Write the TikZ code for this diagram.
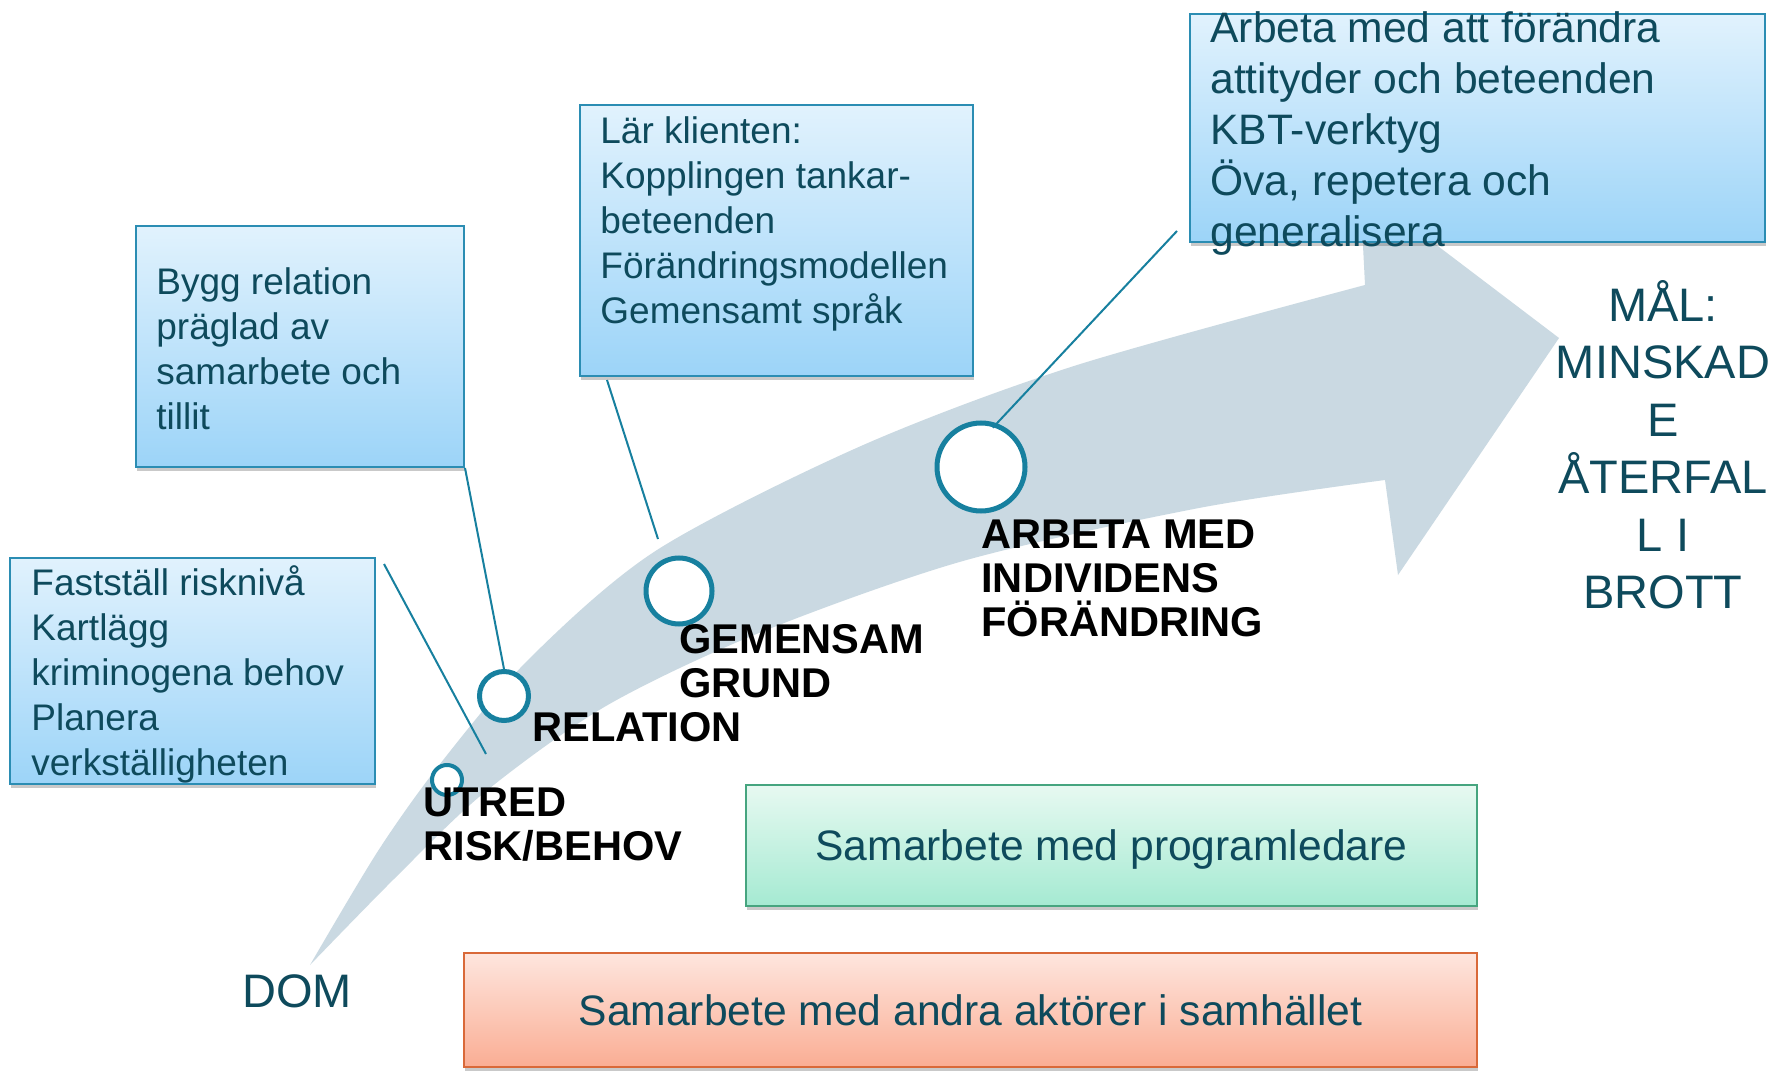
\documentclass[tikz,border=0pt]{standalone}
\usepackage{fontspec}
\setmainfont{Liberation Sans}
\usetikzlibrary{shadows}
\definecolor{arrowc}{HTML}{CAD9E2}
\definecolor{ringc}{HTML}{17809F}
\definecolor{txtc}{HTML}{0E4A5C}
\definecolor{bluetop}{HTML}{E1F2FD}
\definecolor{bluebot}{HTML}{9CD4F8}
\definecolor{blueline}{HTML}{2B8DB3}
\definecolor{greentop}{HTML}{E7F9F1}
\definecolor{greenbot}{HTML}{A5EAD2}
\definecolor{greenline}{HTML}{46A57F}
\definecolor{orangetop}{HTML}{FEE6DE}
\definecolor{orangebot}{HTML}{FAAD94}
\definecolor{orangeline}{HTML}{D96939}
\begin{document}
\begin{tikzpicture}[x=0.5pt,y=-0.5pt,
  box/.style={draw, line width=1pt, inner sep=0pt,
    drop shadow={shadow xshift=0.6pt, shadow yshift=-2pt, opacity=0.35, fill=black!60}},
  bluebox/.style={box, draw=blueline, top color=bluetop, bottom color=bluebot},
  greenbox/.style={box, draw=greenline, top color=greentop, bottom color=greenbot,
    text=txtc, font=\fontsize{21.3}{25}\selectfont},
  orangebox/.style={box, draw=orangeline, top color=orangetop, bottom color=orangebot,
    text=txtc, font=\fontsize{21.3}{25}\selectfont},
  ring/.style={circle, draw=ringc, fill=white, inner sep=0pt, line width=2.5pt},
  conn/.style={draw=ringc, line width=1pt},
  boxtext/.style={font=\fontsize{18.5}{22.5}\selectfont, text=txtc, align=left,
    inner sep=0pt, anchor=north west},
  bigboxtext/.style={font=\fontsize{21.3}{25.5}\selectfont, text=txtc, align=left,
    inner sep=0pt, anchor=north west},
  stage/.style={font=\fontsize{20.8}{22}\selectfont\bfseries, text=black, align=left,
    inner sep=0pt, anchor=north west},
  goal/.style={font=\fontsize{23.5}{28.7}\selectfont, text=txtc, align=center, inner sep=0pt},
]
\useasboundingbox[fill=white] (0,0) rectangle (1787,1074);

% big curved arrow
\fill[arrowc] plot[smooth] coordinates {(310,965) (378,851) (440,764) (530,658)
   (657,550) (861,446) (1074,366) (1365,285)}
 -- (1360,187) -- (1559,338) -- (1398,575) -- (1385,480)
 -- plot[smooth] coordinates {(1385,480) (1199,508) (963,561) (759,633) (606,706)
   (485,792) (395,878) (310,965)}
 -- cycle;

% boxes
\node[bluebox, minimum width=182.5pt, minimum height=113pt] (b1) at (192.5,671) {};
\node[bluebox, minimum width=164pt, minimum height=120.5pt] (b2) at (300,346.5) {};
\node[bluebox, minimum width=196.5pt, minimum height=135.5pt] (b3) at (776.5,240.5) {};
\node[bluebox, minimum width=287.5pt, minimum height=114pt] (b4) at (1477.5,128) {};
\node[greenbox, minimum width=365.5pt, minimum height=60.5pt] (g) at (1111.5,845.5)
  {\raisebox{-7.5pt}[0pt][0pt]{Samarbete med programledare}};
\node[orangebox, minimum width=506.5pt, minimum height=57pt] (o) at (970.5,1010)
  {\raisebox{-7.5pt}[0pt][0pt]{Samarbete med andra aktörer i samhället}};

% circles
\node[ring, line width=2pt, minimum size=15pt] (c1) at (447,780) {};
\node[ring, minimum size=24.5pt] (c2) at (504,696) {};
\node[ring, minimum size=33pt] (c3) at (679,591) {};
\node[ring, minimum size=44pt] (c4) at (981,467) {};

% connectors
\coordinate (l1s) at (384,564);
\coordinate (l1e) at (486,754);
\coordinate (l3s) at (607,380);
\coordinate (l3e) at (658,539);
\coordinate (l4s) at (1177,231);
\draw[conn] (l1s) -- (l1e);
\draw[conn] (b2.south east) -- (c2.north);
\draw[conn] (l3s) -- (l3e);
\draw[conn, shorten >=-3pt] (l4s) -- (c4.70);

% box texts
\node[boxtext] (t1) at (31,563.5) {\strut Fastställ risknivå\\Kartlägg\\kriminogena behov\\Planera\\verkställigheten};
\node[boxtext] (t2) at (156,262.5) {\strut Bygg relation\\präglad av\\samarbete och\\tillit};
\node[boxtext] (t3) at (600,111.5) {\strut Lär klienten:\\Kopplingen tankar-\\beteenden\\Förändringsmodellen\\Gemensamt språk};
\node[bigboxtext] (t4) at (1210,6) {\strut Arbeta med att förändra\\attityder och beteenden\\KBT-verktyg\\Öva, repetera och\\generalisera};

% stage labels
\node[stage] (s1) at (423,785) {\strut UTRED\\RISK/BEHOV};
\node[stage, anchor=base west] (s2) at (532,741) {RELATION};
\node[stage] (s3) at (679,622) {\strut GEMENSAM\\GRUND};
\node[stage] (s4) at (981,517) {\strut ARBETA MED\\INDIVIDENS\\FÖRÄNDRING};

% start and goal
\node[goal, anchor=base] (dom) at (297,1007) {DOM};
\node[goal, anchor=north] (mal) at (1663,280) {\strut MÅL:\\MINSKAD\\E\\ÅTERFAL\\L I\\BROTT};
\end{tikzpicture}
\end{document}
